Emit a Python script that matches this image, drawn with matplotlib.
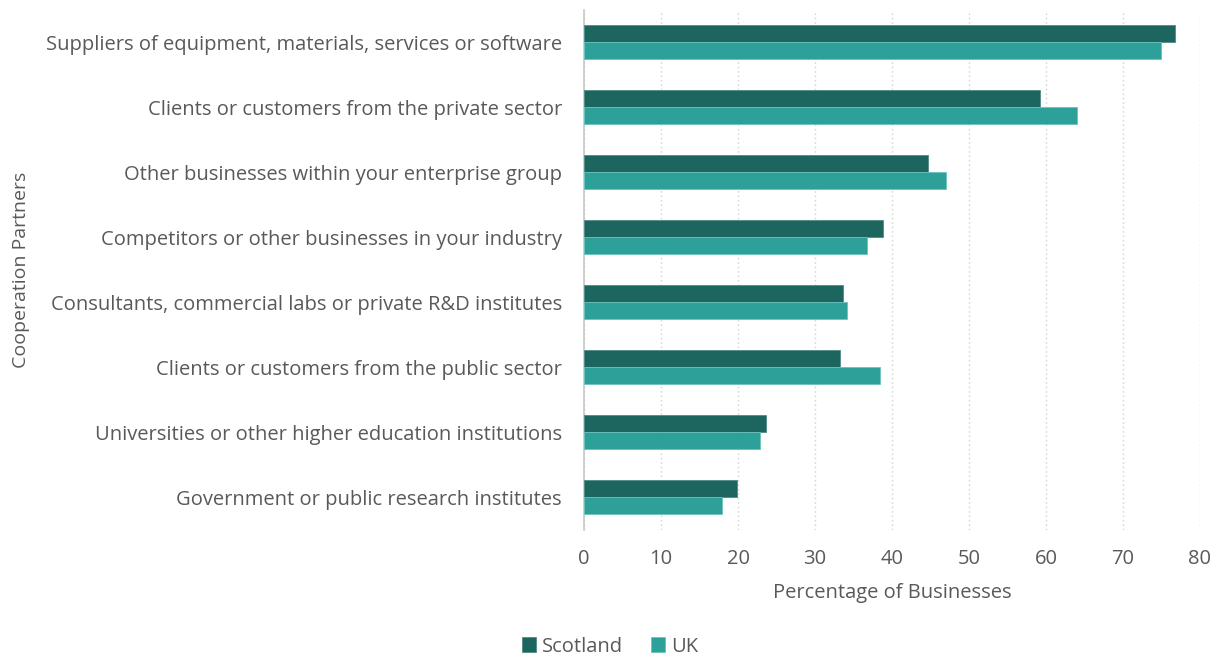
import matplotlib.pyplot as plt
import numpy as np

plt.rcParams['font.family'] = ['Open Sans', 'DejaVu Sans']

partners = [
    "Suppliers of equipment, materials, services or software",
    "Clients or customers from the private sector",
    "Other businesses within your enterprise group",
    "Competitors or other businesses in your industry",
    "Consultants, commercial labs or private R&D institutes",
    "Clients or customers from the public sector",
    "Universities or other higher education institutions",
    "Government or public research institutes",
]
scotland = [76.7, 59.2, 44.7, 38.8, 33.7, 33.2, 23.6, 19.9]
uk = [74.9, 64.0, 47.0, 36.7, 34.1, 38.4, 22.9, 17.9]
xticks = [0, 10, 20, 30, 40, 50, 60, 70, 80]

dark = "#1d6660"
teal = "#2ca099"
grey = "#595959"
fs = 14.5

fig = plt.figure(figsize=(12.2, 6.55), dpi=100)
ax = fig.add_axes([0.4787, 0.191, 0.9836 - 0.4787, 0.794])

y = np.arange(len(partners))
h = 0.26
ax.barh(y - h / 2, scotland, height=h, color=dark, edgecolor="#4f8c86",
        linewidth=0.6, label="Scotland", zorder=3)
ax.barh(y + h / 2, uk, height=h, color=teal, edgecolor="#6cc2bc",
        linewidth=0.6, label="UK", zorder=3)

ax.set_ylim(len(partners) - 0.5, -0.5)
ax.set_xlim(0, 80)
ax.set_yticks(y)
ax.set_yticklabels(partners, fontsize=fs, color=grey)
ax.set_xticks(xticks)
ax.set_xticklabels([str(t) for t in xticks], fontsize=fs, color=grey)
ax.tick_params(axis="both", length=0)
ax.tick_params(axis="y", pad=16)
ax.tick_params(axis="x", pad=14)

ax.grid(axis="x", linestyle=(0, (1.2, 2)), color="#d6d6d6", linewidth=1, zorder=0)
for side in ["top", "right", "bottom"]:
    ax.spines[side].set_visible(False)
ax.spines["left"].set_color("#c8c8c8")
ax.spines["left"].set_linewidth(1.2)

ax.set_xlabel("Percentage of Businesses", fontsize=fs, color=grey, labelpad=10)
fig.text(0.017, 0.588, "Cooperation Partners", rotation=90, fontsize=14,
         color=grey, ha="center", va="center")

fig.legend(loc="lower center", bbox_to_anchor=(0.5, -0.03), ncol=2,
           frameon=False, fontsize=fs, labelcolor=grey, handlelength=0.7,
           handleheight=0.7, handletextpad=0.3, columnspacing=1.4)

fig.savefig("out.png", dpi=100)
